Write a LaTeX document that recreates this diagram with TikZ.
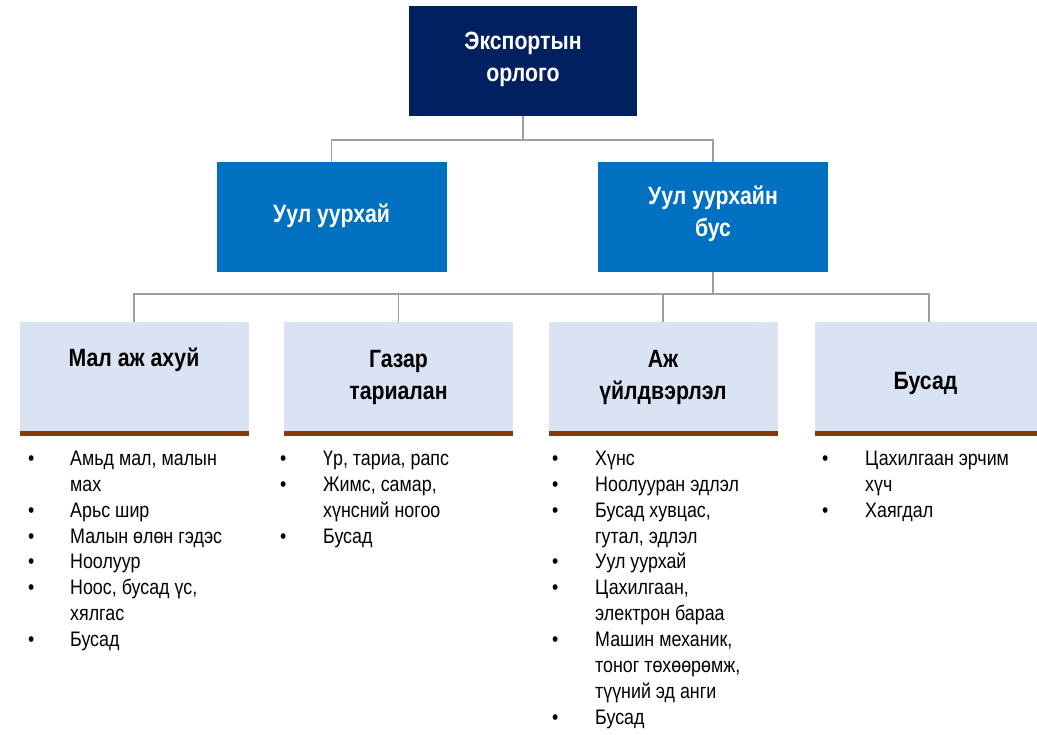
\documentclass[tikz,border=0pt]{standalone}
\usepackage{fontspec}
\setmainfont{Liberation Sans}[FakeStretch=0.85]
\usepackage{array}
\usetikzlibrary{calc}
\definecolor{navy}{HTML}{002060}
\definecolor{midblue}{HTML}{0070C0}
\definecolor{lightbox}{HTML}{DAE3F3}
\definecolor{brownbar}{HTML}{843C0C}
\definecolor{conngray}{HTML}{A0A0A0}
\newcommand{\tlines}[1]{\begin{tabular}[t]{@{}c@{}}#1\end{tabular}}
\newcommand{\blist}[2]{\begin{tabular}[t]{@{}p{#1}@{}l@{}}#2\end{tabular}}
\tikzset{
  boxbase/.style={draw=none, outer sep=0pt, inner sep=0pt},
  topbox/.style={boxbase, fill=navy, minimum width=228, minimum height=110},
  midbox/.style={boxbase, fill=midblue, minimum width=230, minimum height=110},
  lowbox/.style={boxbase, fill=lightbox, minimum width=229, minimum height=114},
  ttl/.style={anchor=base, inner sep=0pt, font=\bfseries\fontsize{25}{32}\selectfont},
  lst/.style={anchor=base west, inner sep=0pt, font=\fontsize{21}{26}\selectfont},
  conn/.style={draw=conngray, line width=1.3pt},
  bar/.style={fill=brownbar}
}
\begin{document}
\begin{tikzpicture}[x=1pt,y=-1pt]
\path[use as bounding box, clip] (0,0) rectangle (1037,735);
\fill[white] (0,0) rectangle (1037,735);
% boxes
\node[topbox] (top) at (523,61) {};
\node[midbox] (l2a) at (331.5,217) {};
\node[midbox] (l2b) at (713,217) {};
\node[lowbox] (m1) at (134,379) {};
\node[lowbox] (m2) at (398.5,379) {};
\node[lowbox] (m3) at (663,379) {};
\node[lowbox] (m4) at (929,379) {};
\foreach \m in {m1,m2,m3,m4}{
  \fill[bar] (\m.south west) rectangle ($(\m.south east)+(0,-5)$);
}
% connectors
\coordinate (j1) at (523,140);
\coordinate (j2) at (713,294);
\draw[conn] (top.south) -- (j1);
\draw[conn] (l2a.north) -- (l2a.north |- j1) -- (l2b.north |- j1) -- (l2b.north);
\draw[conn] (l2b.south) -- (j2);
\draw[conn] (m1.north) -- (m1.north |- j2) -- (m4.north |- j2) -- (m4.north);
\draw[conn] (m2.north) -- (m2.north |- j2);
\draw[conn] (m3.north) -- (m3.north |- j2);
% titles
\node[ttl, text=white] (t0) at (523,50) {\tlines{Экспортын\\орлого}};
\node[ttl, text=white] (t1) at (331.5,223) {\tlines{Уул уурхай}};
\node[ttl, text=white] (t2) at (713,205) {\tlines{Уул уурхайн\\бус}};
\node[ttl, text=black] (t3) at (134,367) {\tlines{Мал аж ахуй}};
\node[ttl, text=black] (t4) at (398.5,368) {\tlines{Газар\\тариалан}};
\node[ttl, text=black] (t5) at (663,368) {\tlines{Аж\\үйлдвэрлэл}};
\node[ttl, text=black] (t6) at (925.5,390) {\tlines{Бусад}};
% bullet lists
\node[lst] (b1) at (28,465) {\blist{42pt}{%
• & Амьд мал,  малын\\
  & мах\\
• & Арьс шир\\
• & Малын өлөн гэдэс\\
• & Ноолуур\\
• & Ноос, бусад үс,\\
  & хялгас\\
• & Бусад}};
\node[lst] (b2) at (280,465) {\blist{43pt}{%
• & Үр, тариа,  рапс\\
• & Жимс, самар,\\
  & хүнсний ногоо\\
• & Бусад}};
\node[lst] (b3) at (552,465) {\blist{43pt}{%
• & Хүнс\\
• & Ноолууран эдлэл\\
• & Бусад хувцас,\\
  & гутал, эдлэл\\
• & Уул уурхай\\
• & Цахилгаан,\\
  & электрон бараа\\
• & Машин механик,\\
  & тоног төхөөрөмж,\\
  & түүний эд анги\\
• & Бусад}};
\node[lst] (b4) at (822,465) {\blist{43pt}{%
• & Цахилгаан эрчим\\
  & хүч\\
• & Хаягдал}};
\end{tikzpicture}
\end{document}
